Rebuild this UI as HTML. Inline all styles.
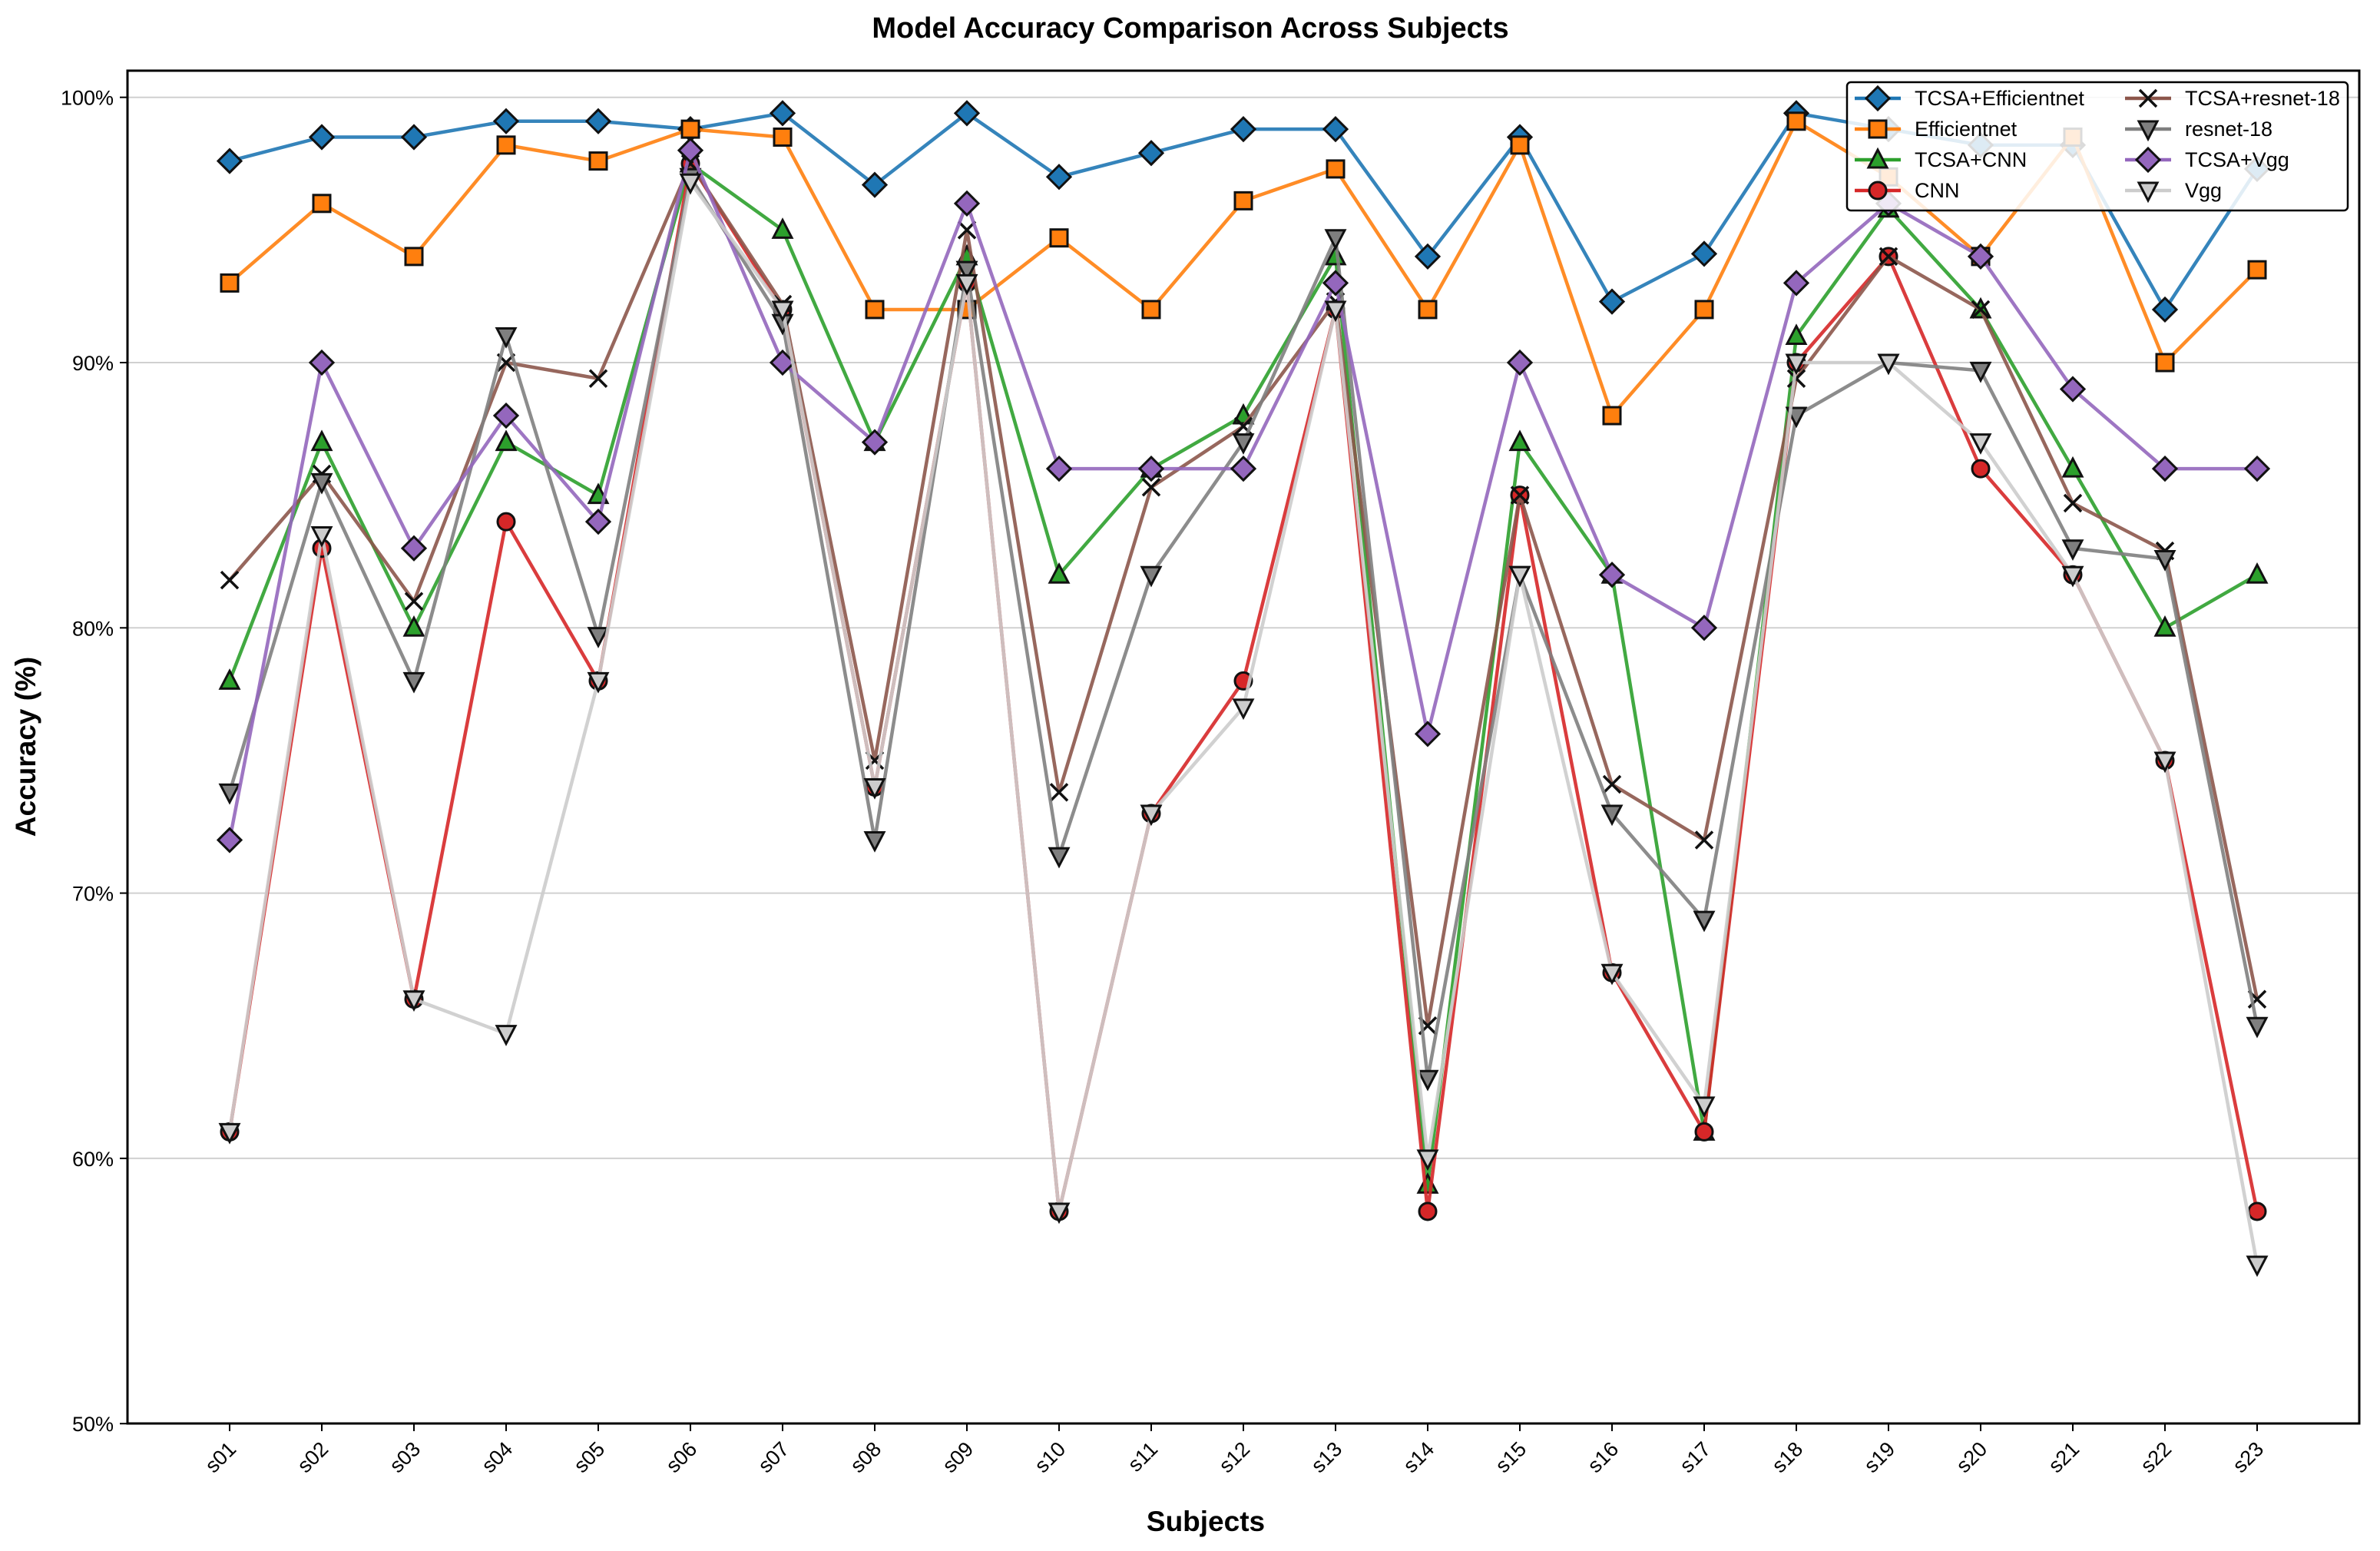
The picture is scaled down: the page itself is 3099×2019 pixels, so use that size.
<!DOCTYPE html>
<html><head><meta charset="utf-8"><style>
html,body{margin:0;padding:0;background:#fff;}
svg{display:block;font-family:"Liberation Sans",Arial,sans-serif;}
</style></head><body>
<svg id="chart" width="3099" height="2019" viewBox="0 0 3099 2019" xmlns="http://www.w3.org/2000/svg">
<rect x="0" y="0" width="3099" height="2019" fill="#fff"/>
<text x="1550" y="49" text-anchor="middle" font-size="38" font-weight="bold">Model Accuracy Comparison Across Subjects</text>
<g id="grid"></g>
<g id="axes"></g>
<g id="series"></g>
<rect x="166" y="92" width="2906" height="1761" fill="none" stroke="#000" stroke-width="3"/>
<text x="1570" y="1993" text-anchor="middle" font-size="37" font-weight="bold">Subjects</text>
<text transform="translate(46,972) rotate(-90)" text-anchor="middle" font-size="37" font-weight="bold">Accuracy (%)</text>
<g id="legend"></g>
</svg>
<script>
const categories = ["s01","s02","s03","s04","s05","s06","s07","s08","s09","s10","s11","s12","s13","s14","s15","s16","s17","s18","s19","s20","s21","s22","s23"];
const yTicks = [50,60,70,80,90,100];
const tcsaEfficientnet = [97.6,98.5,98.5,99.1,99.1,98.8,99.4,96.7,99.4,97.0,97.9,98.8,98.8,94.0,98.5,92.3,94.1,99.4,98.8,98.2,98.2,92.0,97.3];
const efficientnet = [93.0,96.0,94.0,98.2,97.6,98.8,98.5,92.0,92.0,94.7,92.0,96.1,97.3,92.0,98.2,88.0,92.0,99.1,97.0,94.0,98.5,90.0,93.5];
const tcsaCnn = [78,87,80,87,85,97.5,95,87,94,82,86,88,94,59,87,82,61,91,95.8,92,86,80,82];
const cnn = [61,83,66,84,78,97.5,92,74,93,58,73,78,92,58,85,67,61,90,94,86,82,75,58];
const tcsaResnet = [81.8,85.8,81,90,89.4,97.5,92.2,75,95,73.8,85.3,87.6,92.3,65,85,74.1,72,89.4,94,92,84.7,82.9,66];
const resnet = [73.8,85.5,78,91,79.7,97,91.5,72,93.5,71.4,82,87,94.7,63,82,73,69,88,90,89.7,83,82.6,65];
const tcsaVgg = [72,90,83,88,84,98,90,87,96,86,86,86,93,76,90,82,80,93,96,94,89,86,86];
const vgg = [61,83.5,66,64.7,78,96.8,92,74,93,58,73,77,92,60,82,67,62,90,90,87,82,75,56];

const NS="http://www.w3.org/2000/svg";
const X0=299, DX=120, Y100=126.7, PER=34.53;
function xs(i){return X0+i*DX;}
function ys(v){return Y100+(100-v)*PER;}
function mk(tag,attrs,parent){const e=document.createElementNS(NS,tag);for(const k in attrs)e.setAttribute(k,attrs[k]);parent.appendChild(e);return e;}

const grid=document.getElementById('grid'), axes=document.getElementById('axes');
yTicks.forEach(t=>{
  const y=ys(t);
  if(t>50){const g=mk('line',{x1:166,x2:3072,y1:y,y2:y,stroke:'#d0d0d0','stroke-width':2},grid);
  
  }
  mk('line',{x1:156,x2:166,y1:y,y2:y,stroke:'#000','stroke-width':2},axes);
  const tx=mk('text',{x:148,y:y+10,'text-anchor':'end','font-size':27},axes);
  tx.textContent=t+'%';
  
  
});
categories.forEach((c,i)=>{
  const x=xs(i);
  mk('line',{x1:x,x2:x,y1:1853,y2:1863,stroke:'#000','stroke-width':2},axes);
  const tx=mk('text',{transform:`translate(${x+10},${1888}) rotate(-45)`,'text-anchor':'end','font-size':27},axes);
  tx.textContent=c;
  
  
});

const seriesDefs=[
 {name:'TCSA+Efficientnet',data:tcsaEfficientnet,color:'#1f77b4',fill:'#1f77b4',m:'D'},
 {name:'Efficientnet',data:efficientnet,color:'#ff7f0e',fill:'#ff7f0e',m:'s'},
 {name:'TCSA+CNN',data:tcsaCnn,color:'#2ca02c',fill:'#2ca02c',m:'^'},
 {name:'CNN',data:cnn,color:'#d62728',fill:'#d62728',m:'o'},
 {name:'TCSA+resnet-18',data:tcsaResnet,color:'#8c564b',fill:'#8c564b',m:'x'},
 {name:'resnet-18',data:resnet,color:'#7f7f7f',fill:'#7f7f7f',m:'v'},
 {name:'TCSA+Vgg',data:tcsaVgg,color:'#9467bd',fill:'#9467bd',m:'D'},
 {name:'Vgg',data:vgg,color:'#cccccc',fill:'#cccccc',m:'v'}
];
function marker(m,x,y,fill,parent){
  const st={stroke:'#111','stroke-width':3,fill:fill};
  let e;
  if(m==='D')e=mk('polygon',Object.assign({points:`${x},${y-15} ${x+15},${y} ${x},${y+15} ${x-15},${y}`},st),parent);
  else if(m==='s')e=mk('rect',Object.assign({x:x-11,y:y-11,width:22,height:22},st),parent);
  else if(m==='^')e=mk('polygon',Object.assign({points:`${x},${y-13} ${x+12},${y+10} ${x-12},${y+10}`},st),parent);
  else if(m==='v')e=mk('polygon',Object.assign({points:`${x},${y+13} ${x+12},${y-10} ${x-12},${y-10}`},st),parent);
  else if(m==='o')e=mk('circle',Object.assign({cx:x,cy:y,r:11},st),parent);
  else {e=mk('path',{d:`M${x-11},${y-11}L${x+11},${y+11}M${x-11},${y+11}L${x+11},${y-11}`,stroke:'#111','stroke-width':3.5,fill:'none'},parent);}
  return e;
}
const sg=document.getElementById('series');
seriesDefs.forEach(s=>{
  const g=mk('g',{},sg);
  
  
  const pts=s.data.map((v,i)=>xs(i)+','+ys(v)).join(' ');
  const pl=mk('polyline',{points:pts,fill:'none',stroke:s.color,'stroke-width':4.5,'stroke-linejoin':'round',opacity:0.9},g);
  
  
  s.data.forEach((v,i)=>{
    const e=marker(s.m,xs(i),ys(v),s.fill,g);
    
    
  });
});

const lg=document.getElementById('legend');


mk('rect',{x:2405,y:107,width:652,height:167,rx:5,fill:'#fff','fill-opacity':0.85,stroke:'#000','stroke-width':2.5},lg);
seriesDefs.forEach((s,i)=>{
  const col=i<4?0:1, row=i%4;
  const lx=col===0?2415:2767, y=128+row*40;
  const e=mk('g',{},lg);
  
  
  mk('line',{x1:lx,x2:lx+60,y1:y,y2:y,stroke:s.color,'stroke-width':4.5},e);
  marker(s.m,lx+30,y,s.fill,e);
  const t=mk('text',{x:lx+78,y:y+9,'font-size':27},e);
  t.textContent=s.name;
});
</script>
</body></html>
